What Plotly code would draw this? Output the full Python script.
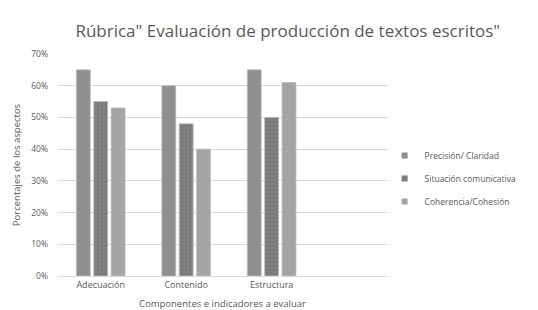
import plotly.graph_objects as go

categories = ["Adecuación", "Contenido", "Estructura"]
series_names = ["Precisión/ Claridad", "Situación comunicativa", "Coherencia/Cohesión"]
precision = [65, 60, 65]
situacion = [55, 48, 50]
coherencia = [53, 40, 61]
tick_vals = [0, 10, 20, 30, 40, 50, 60, 70]
tick_text = ["0%", "10%", "20%", "30%", "40%", "50%", "60%", "70%"]

colors = ["#8e8e8e", "#7b7b7b", "#a5a5a5"]
values = [precision, situacion, coherencia]

fig = go.Figure()
for i, (name, vals, c) in enumerate(zip(series_names, values, colors)):
    fig.add_trace(go.Bar(
        x=categories, y=vals, name=name, showlegend=False, legendgroup=f"g{i}",
        marker=dict(color=c, line=dict(color="#bdbdbd", width=0.8),
                    pattern=dict(shape=".", fgcolor="#9a9a9a", size=4, solidity=0.15)),
    ))
for i, (name, c) in enumerate(zip(series_names, colors)):
    fig.add_trace(go.Scatter(
        x=[None], y=[None], mode="markers", name=name, legendgroup=f"g{i}",
        marker=dict(symbol="square", size=6, color=c),
    ))

font = "Open Sans"
fig.update_layout(
    width=538, height=310,
    margin=dict(l=50, r=159, t=46, b=42, autoexpand=False),
    paper_bgcolor="white", plot_bgcolor="white",
    barmode="group", bargap=0.39, bargroupgap=0.2,
    title=dict(text='Rúbrica" Evaluación de producción de textos escritos"',
               x=0.52, xanchor="center", y=0.925, yanchor="middle",
               font=dict(family=font, size=17, color="#595959")),
    font=dict(family=font, color="#595959"),
    xaxis=dict(range=[-0.5, 3.35], showgrid=False, showline=True, linecolor="#d9d9d9",
               tickfont=dict(size=9, color="#595959"), ticks="", automargin=False,
               title=dict(text="Componentes e indicadores a evaluar",
                          font=dict(size=9.5, color="#595959"), standoff=10)),
    yaxis=dict(range=[0, 70], tickvals=tick_vals, ticktext=tick_text,
               showgrid=True, gridcolor="#d9d9d9", gridwidth=1, zeroline=False,
               tickfont=dict(size=8.5, color="#595959"), ticks="", ticklabelstandoff=9,
               automargin=False,
               title=dict(text="Porcentajes de los aspectos",
                          font=dict(size=9.5, color="#595959"), standoff=8)),
    legend=dict(xref="container", yref="container", x=0.70, xanchor="left",
                y=0.45, yanchor="middle",
                font=dict(size=8.5, color="#595959"), itemwidth=30,
                tracegroupgap=4, bgcolor="rgba(0,0,0,0)"),
    showlegend=True,
)

fig.write_html("out.html")
